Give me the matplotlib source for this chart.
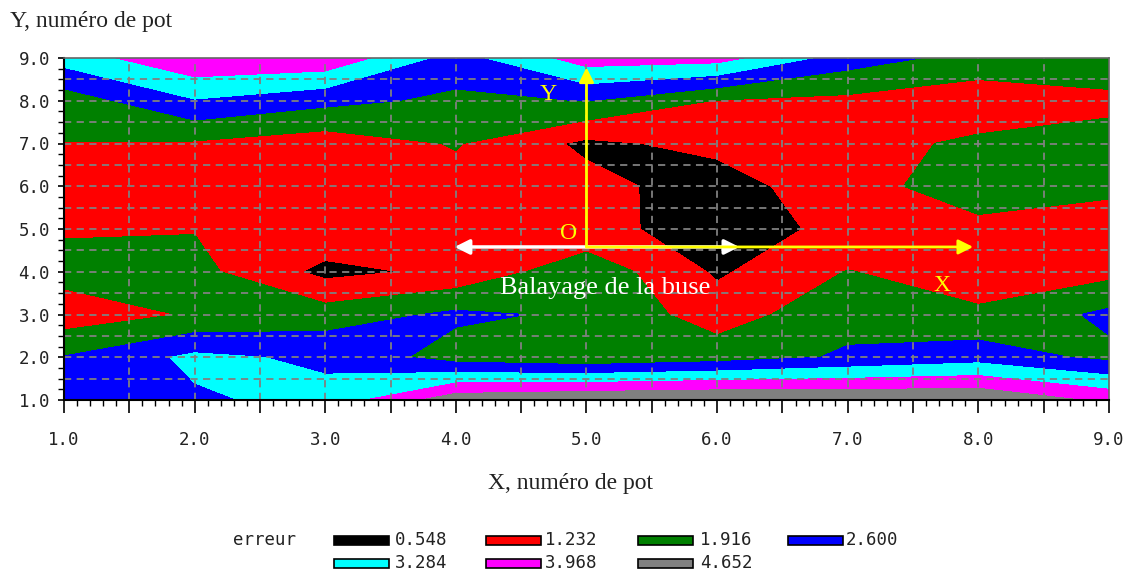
import numpy as np
import matplotlib
matplotlib.use("Agg")
import matplotlib.pyplot as plt
from matplotlib.patches import Rectangle

# ---- data (pot grid, error values) ----
x_pots = [1, 2, 3, 4, 5, 6, 7, 8, 9]
y_pots = [1, 2, 3, 4, 5, 6, 7, 8, 9]

err_y1 = [2.30, 2.50, 2.80, 4.40, 4.62, 4.70, 4.60, 4.60, 3.80]
err_y2 = [1.95, 2.75, 2.47, 1.60, 1.36, 1.60, 2.00, 2.30, 1.75]
err_y3 = [0.83, 1.30, 1.55, 2.05, 1.80, 0.90, 1.70, 1.35, 2.07]
err_y4 = [1.50, 1.45, 0.35, 0.70, 1.69, 0.45, 1.26, 0.85, 1.02]
err_y5 = [1.15, 1.20, 1.10, 0.90, 0.70, 0.33, 0.665, 1.10, 0.84]
err_y6 = [1.00, 1.00, 0.90, 1.00, 0.78, 0.20, 1.04, 1.49, 1.40]
err_y7 = [1.22, 1.15, 0.86, 1.28, 0.40, 0.75, 1.00, 1.35, 1.43]
err_y8 = [1.53, 2.55, 2.10, 1.77, 1.93, 1.20, 1.06, 0.82, 1.10]
err_y9 = [2.90, 3.86, 3.80, 2.30, 3.62, 3.55, 2.25, 1.65, 1.60]

legend_levels = [0.548, 1.232, 1.916, 2.600, 3.284, 3.968, 4.652]
legend_labels = ["0.548", "1.232", "1.916", "2.600", "3.284", "3.968", "4.652"]
band_colors = ["#000000", "#ff0000", "#008000", "#0000ff",
               "#00ffff", "#ff00ff", "#808080", "#ffffff"]

Z = np.array([err_y1, err_y2, err_y3, err_y4, err_y5,
              err_y6, err_y7, err_y8, err_y9])
X, Y = np.meshgrid(x_pots, y_pots)

W, H = 1131, 577
fig = plt.figure(figsize=(W / 100, H / 100), dpi=100)
fig.patch.set_facecolor("white")
ax = fig.add_axes([64 / W, 177 / H, 1045 / W, 342 / H])

levels = [-10.0] + legend_levels + [10.0]
ax.contourf(X, Y, Z, levels=levels, colors=band_colors, antialiased=False, zorder=1)

ax.set_xlim(1, 9)
ax.set_ylim(1, 9)

# dashed grid every half pot
for v in np.arange(1.5, 9.0, 0.5):
    ax.axvline(v, color="#808080", lw=1.3, ls=(0, (4, 3)), zorder=3)
    ax.axhline(v, color="#808080", lw=1.3, ls=(0, (4, 3)), zorder=3)

# ticks
xt = np.arange(1, 9.01, 0.5)
ax.set_xticks(xt)
ax.set_xticklabels([f"{v:.1f}" if float(v).is_integer() else "" for v in xt])
ax.set_xticks(np.arange(1, 9.01, 0.1), minor=True)
yt = np.arange(1, 9.01, 1.0)
ax.set_yticks(yt)
ax.set_yticklabels([f"{v:.1f}" for v in yt])
ax.set_yticks(np.arange(1, 9.01, 0.25), minor=True)

tick_font = "DejaVu Sans Mono"
ax.tick_params(axis="x", which="major", length=9, width=1.2, direction="out",
               pad=13, labelsize=12.5, colors="black")
ax.tick_params(axis="x", which="minor", length=4, width=1.0, direction="out")
ax.tick_params(axis="y", which="major", length=4, width=1.2, direction="out",
               pad=6, labelsize=12.5)
ax.tick_params(axis="y", which="minor", length=4, width=1.0, direction="out")
for lab in ax.get_xticklabels() + ax.get_yticklabels():
    lab.set_family(tick_font)
    lab.set_color("#222222")

for side in ["left", "bottom"]:
    ax.spines[side].set_color("black")
    ax.spines[side].set_linewidth(1.5)
for side in ["top", "right"]:
    ax.spines[side].set_color("#666666")
    ax.spines[side].set_linewidth(1.2)
for s in ax.spines.values():
    s.set_zorder(6)

# axis titles
serif = "Liberation Serif"
fig.text(10 / W, 1 - 21 / H, "Y, numéro de pot", family=serif, fontsize=17,
         ha="left", va="center", color="#222222")
fig.text(570 / W, 1 - 483 / H, "X, numéro de pot", family=serif, fontsize=17,
         ha="center", va="center", color="#222222")

# annotation arrows
ax.annotate("", xy=(3.99, 4.58), xytext=(6.17, 4.58),
            arrowprops=dict(arrowstyle="<|-|>", color="white", lw=2.5,
                            mutation_scale=22, shrinkA=0, shrinkB=0), zorder=7)
ax.annotate("", xy=(5.0, 8.78), xytext=(5.0, 4.58),
            arrowprops=dict(arrowstyle="-|>", color="#ffff00", lw=2,
                            mutation_scale=22, shrinkA=0, shrinkB=0), zorder=8)
ax.annotate("", xy=(7.96, 4.58), xytext=(5.0, 4.58),
            arrowprops=dict(arrowstyle="-|>", color="#ffff00", lw=2,
                            mutation_scale=22, shrinkA=0, shrinkB=0), zorder=8)
ax.text(4.71, 8.14, "Y", family=serif, fontsize=17, color="#ffff00",
        ha="center", va="center", zorder=9)
ax.text(4.86, 4.9, "O", family=serif, fontsize=17, color="#ffff00",
        ha="center", va="center", zorder=9)
ax.text(7.72, 3.68, "X", family=serif, fontsize=17, color="#ffff00",
        ha="center", va="center", zorder=9)
ax.text(5.14, 3.62, "Balayage de la buse", family=serif, fontsize=19,
        color="white", ha="center", va="center", zorder=9)

# legend
fig.text(233 / W, 1 - 540 / H, "erreur", family=tick_font, fontsize=12.5,
         ha="left", va="center", color="#222222")
sw_x = [334, 486, 638, 788]
lab_x = [395, 545, 700, 846]
row_y = [540, 563]
for i, (lab, col) in enumerate(zip(legend_labels, band_colors[:7])):
    r, c = divmod(i, 4)
    py = row_y[r]
    fig.patches.append(Rectangle((sw_x[c] / W, 1 - (py + 4.5) / H), 55 / W, 9 / H,
                                 transform=fig.transFigure, facecolor=col,
                                 edgecolor="black", lw=1.2))
    fig.text(lab_x[c] / W, 1 - py / H, lab, family=tick_font, fontsize=12.5,
             ha="left", va="center", color="#222222")

fig.savefig("out.png", dpi=100)
